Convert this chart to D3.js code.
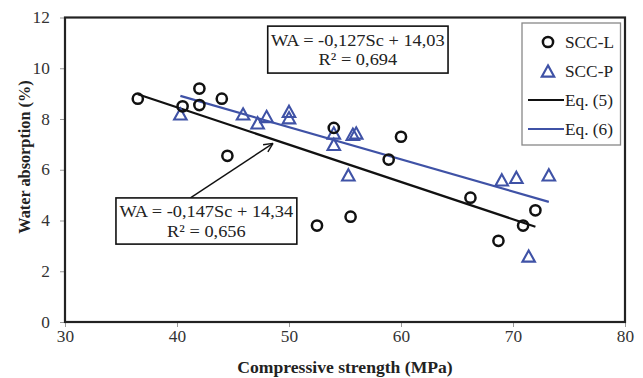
<!DOCTYPE html>
<html>
<head>
<meta charset="utf-8">
<script src="https://cdn.jsdelivr.net/npm/d3@7"></script>
<style>
  body { margin: 0; background: #fff; }
  svg { display: block; font-family: "Liberation Serif", "Times New Roman", serif; }
</style>
</head>
<body>
<div id="chart"></div>
<script>
// SCC-L (circles)
var sccLx = [36.5, 40.5, 42, 42, 44, 44.5, 52.5, 54, 55.5, 58.9, 60, 66.2, 68.7, 70.9, 72];
var sccLy = [8.8, 8.5, 9.2, 8.55, 8.8, 6.55, 3.8, 7.65, 4.15, 6.4, 7.3, 4.9, 3.2, 3.8, 4.4];
// SCC-P (triangles)
var sccPx = [40.3, 45.9, 47.2, 48, 50, 50, 54, 54, 55.3, 55.7, 56, 69, 70.3, 71.4, 73.2];
var sccPy = [8.2, 8.2, 7.85, 8.1, 8.3, 8.05, 7.45, 7.0, 5.8, 7.4, 7.45, 5.6, 5.7, 2.6, 5.8];

// linear fits: Eq. (5) for SCC-L, Eq. (6) for SCC-P
var eq5 = { a: -0.147, b: 14.34, from: 36.5, to: 72 };
var eq6 = { a: -0.127, b: 14.03, from: 40.3, to: 73.2 };

var xTicks = [30, 40, 50, 60, 70, 80];
var yTicks = [0, 2, 4, 6, 8, 10, 12];
var legendLabels = ["SCC-L", "SCC-P", "Eq. (5)", "Eq. (6)"];

var W = 643, H = 378;
var margin = { left: 65, right: 18, top: 17.5, bottom: 56 };
var blue = "#3f52a6";
var sx = 1.08; // the figure is a little wider than tall, text too

var svg = d3.select("#chart").append("svg")
  .attr("width", W).attr("height", H);

var x = d3.scaleLinear().domain([30, 80]).range([margin.left, W - margin.right]);
var y = d3.scaleLinear().domain([0, 12]).range([H - margin.bottom, margin.top]);

function label(px, py, str, size, anchor) {
  return svg.append("text")
    .attr("transform", "translate(" + px + "," + py + ") scale(" + sx + ",1)")
    .attr("text-anchor", anchor || "start")
    .attr("font-size", size).attr("fill", "#222")
    .text(str);
}

// axes
var xAxis = svg.append("g")
  .attr("transform", "translate(0," + (H - margin.bottom) + ")")
  .call(d3.axisBottom(x).tickValues(xTicks).tickSize(5).tickPadding(4));
var yAxis = svg.append("g")
  .attr("transform", "translate(" + margin.left + ",0)")
  .call(d3.axisLeft(y).tickValues(yTicks).tickSize(5).tickPadding(9));

[xAxis, yAxis].forEach(function (g) {
  g.select(".domain").remove();
  g.selectAll("line").attr("stroke", "#999");
  g.selectAll("text")
    .attr("font-family", "Liberation Serif")
    .attr("font-size", 16)
    .attr("fill", "#333")
    .attr("transform", "scale(" + sx + ",1)");
});

// frame
svg.append("rect")
  .attr("x", x(30)).attr("y", y(12))
  .attr("width", x(80) - x(30)).attr("height", y(0) - y(12))
  .attr("fill", "none").attr("stroke", "#222").attr("stroke-width", 2.2);

// axis titles
label((x(30) + x(80)) / 2, 373, "Compressive strength (MPa)", 16.3, "middle")
  .attr("font-weight", "bold");

svg.append("text")
  .attr("transform", "translate(30," + 157 + ") rotate(-90)")
  .attr("text-anchor", "middle")
  .attr("font-size", 16.3).attr("font-weight", "bold").attr("fill", "#222")
  .text("Water absorption (%)");

// fit lines
function fitLine(eq, color) {
  svg.append("line")
    .attr("x1", x(eq.from)).attr("y1", y(eq.a * eq.from + eq.b))
    .attr("x2", x(eq.to)).attr("y2", y(eq.a * eq.to + eq.b))
    .attr("stroke", color).attr("stroke-width", 2.2);
}
fitLine(eq5, "#111");
fitLine(eq6, blue);

// markers
var tri = function (cx, cy, s) {
  var h = s * 0.9;
  return "M" + cx + "," + (cy - h / 2) + "L" + (cx + s / 2) + "," + (cy + h / 2) +
    "L" + (cx - s / 2) + "," + (cy + h / 2) + "Z";
};

svg.append("g").selectAll("path")
  .data(d3.range(sccPx.length))
  .join("path")
  .attr("d", function (i) { return tri(x(sccPx[i]), y(sccPy[i]), 12.5); })
  .attr("fill", "none").attr("stroke", blue).attr("stroke-width", 2.1);

svg.append("g").selectAll("circle")
  .data(d3.range(sccLx.length))
  .join("circle")
  .attr("cx", function (i) { return x(sccLx[i]); })
  .attr("cy", function (i) { return y(sccLy[i]); })
  .attr("r", 5.1)
  .attr("fill", "none").attr("stroke", "#111").attr("stroke-width", 2.5);

// equation boxes
function eqBox(x0, y0, x1, y1, l1, l2) {
  svg.append("rect")
    .attr("x", x(x0)).attr("y", y(y0))
    .attr("width", x(x1) - x(x0)).attr("height", y(y1) - y(y0))
    .attr("fill", "#fff").attr("stroke", "#111").attr("stroke-width", 1.6);
  var cx = (x(x0) + x(x1)) / 2;
  label(cx, y(y0) + 19.5, l1, 17, "middle");
  label(cx, y(y0) + 39, l2, 17, "middle");
}

// arrow for Eq. (5)
var ax0 = x(41.2), ay0 = y(4.89), ax1 = x(48.57), ay1 = y(7.04);
svg.append("line")
  .attr("x1", ax0).attr("y1", ay0).attr("x2", ax1).attr("y2", ay1)
  .attr("stroke", "#111").attr("stroke-width", 1.4);
var ang = Math.atan2(ay1 - ay0, ax1 - ax0);
[-0.45, 0.45].forEach(function (d) {
  svg.append("line")
    .attr("x1", ax1).attr("y1", ay1)
    .attr("x2", ax1 - 10 * Math.cos(ang + d)).attr("y2", ay1 - 10 * Math.sin(ang + d))
    .attr("stroke", "#111").attr("stroke-width", 1.4);
});

eqBox(48.1, 11.66, 64.2, 9.81, "WA = -0,127Sc + 14,03", "R\u00b2 = 0,694");
eqBox(34.55, 4.89, 50.7, 3.07, "WA = -0,147Sc + 14,34", "R\u00b2 = 0,656");

// legend
svg.append("rect")
  .attr("x", 522).attr("y", 23).attr("width", 98.5).attr("height", 122)
  .attr("fill", "#fff").attr("stroke", "#888").attr("stroke-width", 1.3);
var rowY = [42, 71, 100, 129];
legendLabels.forEach(function (t, i) {
  label(565, rowY[i] + 5.5, t, 16);
});
svg.append("circle").attr("cx", 548).attr("cy", rowY[0])
  .attr("r", 5.1).attr("fill", "none").attr("stroke", "#111").attr("stroke-width", 2.5);
svg.append("path").attr("d", tri(548, rowY[1], 12.5))
  .attr("fill", "none").attr("stroke", blue).attr("stroke-width", 2.1);
svg.append("line").attr("x1", 528).attr("x2", 564).attr("y1", rowY[2]).attr("y2", rowY[2])
  .attr("stroke", "#111").attr("stroke-width", 2.2);
svg.append("line").attr("x1", 528).attr("x2", 564).attr("y1", rowY[3]).attr("y2", rowY[3])
  .attr("stroke", blue).attr("stroke-width", 2.2);
</script>
</body>
</html>
